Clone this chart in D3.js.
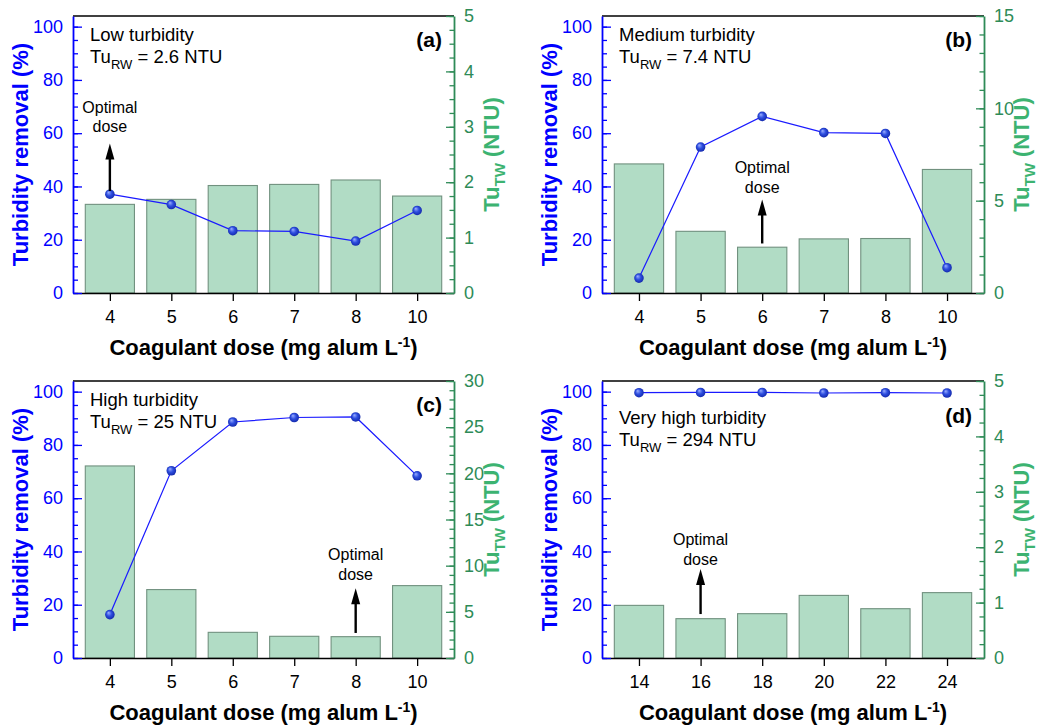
<!DOCTYPE html>
<html>
<head>
<meta charset="utf-8">
<script src="https://cdn.jsdelivr.net/npm/d3@7"></script>
<style>
  body { margin: 0; background: #fff; }
  svg { font-family: "Liberation Sans", Arial, sans-serif; }
</style>
</head>
<body>
<div id="chart"></div>
<script>
// doses (categories)
var dosesLow = ["4", "5", "6", "7", "8", "10"];
var dosesVeryHigh = ["14", "16", "18", "20", "22", "24"];

// turbidity removal (%) - line
var removalA = [37.1, 33.2, 23.4, 23.1, 19.5, 31.0];
var removalB = [5.6, 54.8, 66.3, 60.2, 59.9, 9.5];
var removalC = [16.3, 70.3, 88.6, 90.3, 90.5, 68.4];
var removalD = [99.6, 99.7, 99.7, 99.5, 99.6, 99.5];

// treated water turbidity (NTU) - bars
var tuTwA = [1.60, 1.69, 1.94, 1.96, 2.04, 1.75];
var tuTwB = [6.99, 3.34, 2.48, 2.93, 2.95, 6.69];
var tuTwC = [20.8, 7.41, 2.78, 2.35, 2.31, 7.84];
var tuTwD = [0.95, 0.71, 0.80, 1.13, 0.89, 1.18];

// tick labels
var removalTicks = [0, 20, 40, 60, 80, 100];
var tuTicksA = [0, 1, 2, 3, 4, 5];
var tuTicksB = [0, 5, 10, 15];
var tuTicksC = [0, 5, 10, 15, 20, 25, 30];
var tuTicksD = [0, 1, 2, 3, 4, 5];

var width = 1047,
    height = 727;

var blue = "#0000ff",
    green = "#2e8b57",
    greenTitle = "#3cb371",
    tickFont = 18;

var panels = [
  { tag: "(a)", name: "Low turbidity", tuRw: "2.6", doses: dosesLow, removal: removalA, tu: tuTwA,
    tuTicks: tuTicksA, minor: 0.25, optimal: "4", arrow: [38.3, 56.1], note: [67.4, 60.3],
    box: [73, 16, 454, 293], textDy: 25, tagDy: 31 },
  { tag: "(b)", name: "Medium turbidity", tuRw: "7.4", doses: dosesLow, removal: removalB, tu: tuTwB,
    tuTicks: tuTicksB, minor: 1, optimal: "6", arrow: [18.6, 35.1], note: [45.1, 37.6],
    box: [602, 16, 984, 293], textDy: 25, tagDy: 31 },
  { tag: "(c)", name: "High turbidity", tuRw: "25", doses: dosesLow, removal: removalC, tu: tuTwC,
    tuTicks: tuTicksC, minor: 1, optimal: "8", arrow: [9.4, 26.2], note: [36.9, 29.4],
    box: [73, 381, 454, 658], textDy: 25, tagDy: 31 },
  { tag: "(d)", name: "Very high turbidity", tuRw: "294", doses: dosesVeryHigh, removal: removalD, tu: tuTwD,
    tuTicks: tuTicksD, minor: 0.25, optimal: "16", arrow: [16.5, 33.4], note: [42.5, 35.0],
    box: [602, 381, 984, 658], textDy: 43, tagDy: 42 }
];

var svg = d3.select("#chart").append("svg")
    .attr("width", width)
    .attr("height", height);

var defs = svg.append("defs");
var grad = defs.append("radialGradient")
    .attr("id", "ball")
    .attr("cx", "0.5").attr("cy", "0.5").attr("r", "0.6")
    .attr("fx", "0.35").attr("fy", "0.3");
grad.append("stop").attr("offset", "0%").attr("stop-color", "#9db0ff");
grad.append("stop").attr("offset", "45%").attr("stop-color", "#2f4fe0");
grad.append("stop").attr("offset", "100%").attr("stop-color", "#0c1f9e");

panels.forEach(function(p) {
  var L = p.box[0], T = p.box[1], R = p.box[2], B = p.box[3];
  var tuMax = p.tuTicks[p.tuTicks.length - 1];

  var x = d3.scalePoint()
      .domain(p.doses)
      .range([L, R])
      .padding(0.6);

  var y = d3.scaleLinear().domain([0, 104]).range([B, T]);
  var yr = d3.scaleLinear().domain([0, tuMax]).range([B, T]);

  var bw = x.step() * 0.8;
  var g = svg.append("g");

  // bars
  g.selectAll("rect.bar")
    .data(p.tu)
    .enter().append("rect")
      .attr("class", "bar")
      .attr("x", function(d, i) { return x(p.doses[i]) - bw / 2; })
      .attr("y", function(d) { return yr(d); })
      .attr("width", bw)
      .attr("height", function(d) { return B - yr(d); })
      .attr("fill", "#b1dcc5")
      .attr("stroke", "#71917f")
      .attr("stroke-width", 1.1);

  // removal line
  var line = d3.line()
      .x(function(d, i) { return x(p.doses[i]); })
      .y(function(d) { return y(d); });

  g.append("path")
    .datum(p.removal)
    .attr("d", line)
    .attr("fill", "none")
    .attr("stroke", "#1a1aff")
    .attr("stroke-width", 1.2);

  g.selectAll("circle.pt")
    .data(p.removal)
    .enter().append("circle")
      .attr("class", "pt")
      .attr("cx", function(d, i) { return x(p.doses[i]); })
      .attr("cy", function(d) { return y(d); })
      .attr("r", 4.8)
      .attr("fill", "url(#ball)");

  // top frame
  g.append("line")
    .attr("x1", L).attr("x2", R).attr("y1", T).attr("y2", T)
    .attr("stroke", "#000").attr("stroke-width", 1.5);

  // bottom axis
  var xAxis = g.append("g")
      .attr("transform", "translate(0," + B + ")")
      .call(d3.axisBottom(x).tickSize(8).tickSizeOuter(0).tickPadding(9.5));
  xAxis.select(".domain").attr("stroke", "#000").attr("stroke-width", 1.5);
  xAxis.selectAll(".tick line").attr("stroke", "#000").attr("stroke-width", 1.3);
  xAxis.selectAll("text").attr("font-size", tickFont).attr("fill", "#000").attr("font-family", null);

  // left axis
  var yMinor = g.append("g")
      .attr("transform", "translate(" + L + ",0)")
      .call(d3.axisLeft(y).tickValues(d3.range(0, 101, 5)).tickSize(-5).tickSizeOuter(0).tickFormat(""));
  yMinor.selectAll("line").attr("stroke", blue).attr("stroke-width", 1.3);
  yMinor.select(".domain").remove();

  var yAxis = g.append("g")
      .attr("transform", "translate(" + L + ",0)")
      .call(d3.axisLeft(y).tickValues(removalTicks).tickSize(-9).tickSizeOuter(0).tickPadding(10).tickFormat(d3.format("d")));
  yAxis.select(".domain").attr("stroke", blue).attr("stroke-width", 1.8);
  yAxis.selectAll(".tick line").attr("stroke", blue).attr("stroke-width", 1.3);
  yAxis.selectAll("text").attr("font-size", tickFont).attr("fill", blue).attr("font-family", null);

  // right axis
  var rMinor = g.append("g")
      .attr("transform", "translate(" + R + ",0)")
      .call(d3.axisRight(yr).tickValues(d3.range(0, tuMax + 1e-9, p.minor)).tickSize(-4.5).tickSizeOuter(0).tickFormat(""));
  rMinor.selectAll("line").attr("stroke", green).attr("stroke-width", 1.3);
  rMinor.select(".domain").remove();

  var rAxis = g.append("g")
      .attr("transform", "translate(" + R + ",0)")
      .call(d3.axisRight(yr).tickValues(p.tuTicks).tickSize(-8).tickSizeOuter(0).tickPadding(10).tickFormat(d3.format("d")));
  rAxis.select(".domain").attr("stroke", green).attr("stroke-width", 1.8);
  rAxis.selectAll(".tick line").attr("stroke", green).attr("stroke-width", 1.3);
  rAxis.selectAll("text").attr("font-size", tickFont).attr("fill", green).attr("font-family", null);

  // axis titles
  var xt = g.append("text")
      .attr("x", (L + R) / 2)
      .attr("y", B + 62)
      .attr("text-anchor", "middle")
      .attr("font-size", 22)
      .attr("font-weight", "bold")
      .attr("fill", "#000");
  xt.append("tspan").text("Coagulant dose (mg alum L");
  xt.append("tspan").attr("font-size", 14).attr("dy", -8).text("-1");
  xt.append("tspan").attr("dy", 8).text(")");

  g.append("text")
    .attr("transform", "translate(" + (L - 45) + "," + ((T + B) / 2) + ") rotate(-90)")
    .attr("text-anchor", "middle")
    .attr("font-size", 22)
    .attr("font-weight", "bold")
    .attr("fill", blue)
    .text("Turbidity removal (%)");

  var rt = g.append("text")
      .attr("transform", "translate(" + (R + 45) + "," + ((T + B) / 2) + ") rotate(-90)")
      .attr("text-anchor", "middle")
      .attr("font-size", 22)
      .attr("font-weight", "bold")
      .attr("fill", greenTitle);
  rt.append("tspan").text("Tu");
  rt.append("tspan").attr("font-size", 15).attr("dy", 6).text("TW");
  rt.append("tspan").attr("dy", -6).text(" (NTU)");

  // panel text
  g.append("text")
    .attr("x", L + 17).attr("y", T + p.textDy)
    .attr("font-size", 18.5).attr("fill", "#000")
    .text(p.name);
  var tw = g.append("text")
      .attr("x", L + 17).attr("y", T + p.textDy + 22)
      .attr("font-size", 18.5).attr("fill", "#000");
  tw.append("tspan").text("Tu");
  tw.append("tspan").attr("font-size", 13).attr("dy", 6).text("RW");
  tw.append("tspan").attr("dy", -6).text(" = " + p.tuRw + " NTU");

  g.append("text")
    .attr("x", R - 12).attr("y", T + p.tagDy)
    .attr("text-anchor", "end")
    .attr("font-size", 21).attr("font-weight", "bold").attr("fill", "#000")
    .text(p.tag);

  // optimal dose annotation
  var ax = x(p.optimal);
  g.append("text")
    .attr("x", ax).attr("y", y(p.note[0]))
    .attr("text-anchor", "middle").attr("font-size", 16).attr("fill", "#000")
    .text("Optimal");
  g.append("text")
    .attr("x", ax).attr("y", y(p.note[1]))
    .attr("text-anchor", "middle").attr("font-size", 16).attr("fill", "#000")
    .text("dose");

  var tip = y(p.arrow[1]);
  g.append("line")
    .attr("x1", ax).attr("x2", ax)
    .attr("y1", y(p.arrow[0])).attr("y2", tip + 12)
    .attr("stroke", "#000").attr("stroke-width", 2.4);
  g.append("path")
    .attr("d", "M" + ax + "," + tip + "L" + (ax - 4.5) + "," + (tip + 16) + "L" + (ax + 4.5) + "," + (tip + 16) + "Z")
    .attr("fill", "#000");
});
</script>
</body>
</html>
